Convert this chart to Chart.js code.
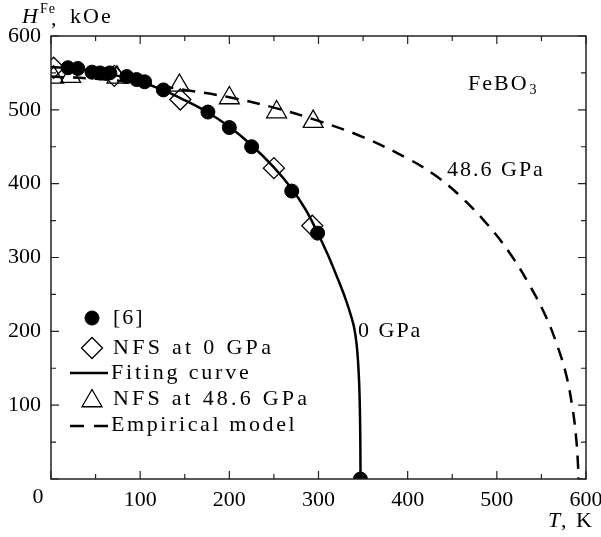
<!DOCTYPE html>
<html>
<head>
<meta charset="utf-8">
<script src="https://cdn.jsdelivr.net/npm/chart.js@4/dist/chart.umd.min.js"></script>
<style>
  html, body { margin: 0; padding: 0; background: #fff; }
</style>
</head>
<body>
<canvas id="myChart" width="601" height="537"></canvas>
<script>
"use strict";

// [6] – filled circles
var refT = [19, 30, 46, 55, 66, 85, 96, 105, 126, 176, 200, 225, 270, 299, 347];
var refH = [557, 556, 551, 550, 550, 545, 541, 538, 527, 497, 476, 450, 390, 333, 0];

// NFS at 0 GPa – diamonds
var nfs0T = [3, 71, 145, 250, 293];
var nfs0H = [557, 546, 514, 421, 343];

// NFS at 48.6 GPa – triangles
var nfs48T = [3, 22, 74, 144, 200, 253, 294];
var nfs48H = [544, 545, 544, 533, 516, 497, 484];

// fitting curve (0 GPa)
var fitT = [0, 25, 50, 75, 100, 125, 150, 175, 200, 225, 250, 270, 285, 296, 310, 320, 330, 337, 340, 342.5, 344.3, 345.6, 346.4, 346.9, 347.1];
var fitH = [558, 556, 552, 546, 538, 527, 513, 497, 477, 452, 422, 393, 366, 341, 305, 276, 245, 219, 205, 185, 160, 130, 95, 50, 0];

// empirical model (48.6 GPa)
var empT = [0, 50, 100, 150, 200, 250, 300, 350, 400, 430, 460, 490, 515, 537, 555, 568, 578, 585, 589, 591, 591.5];
var empH = [545, 542, 536, 527, 517, 503, 485, 463, 434, 412, 382, 344, 305, 262, 220, 180, 140, 95, 55, 20, 0];

var tickValues = [0, 100, 200, 300, 400, 500, 600];

function pts(xs, ys) {
    return xs.map(function (x, i) { return { x: x, y: ys[i] }; });
}

var serif = "'Liberation Serif', 'Times New Roman', serif";

function drawText(c, txt, x, y, size, spacing, align, italic) {
    c.save();
    c.font = (italic ? 'italic ' : '') + size + 'px ' + serif;
    c.fillStyle = '#000';
    c.textBaseline = 'middle';
    c.textAlign = align || 'left';
    if ('letterSpacing' in c) c.letterSpacing = (spacing || 0) + 'px';
    c.fillText(txt, x, y);
    var w = c.measureText(txt).width;
    c.restore();
    return w;
}

var framePlugin = {
    id: 'frame',
    afterDatasetsDraw: function (chart) {
        var c = chart.ctx, a = chart.chartArea;
        var xs = chart.scales.x, ys = chart.scales.y;
        c.save();
        c.strokeStyle = '#222';
        c.lineWidth = 1.5;
        c.strokeRect(a.left, a.top, a.right - a.left, a.bottom - a.top);
        c.lineWidth = 1.2;
        for (var v = 0; v <= 600; v += 50) {
            var len = (v % 100 === 0) ? 8 : 5;
            var px = xs.getPixelForValue(v), py = ys.getPixelForValue(v);
            c.beginPath();
            c.moveTo(px, a.bottom); c.lineTo(px, a.bottom - len);
            c.moveTo(px, a.top); c.lineTo(px, a.top + len);
            c.moveTo(a.left, py); c.lineTo(a.left + len, py);
            c.moveTo(a.right, py); c.lineTo(a.right - len, py);
            c.stroke();
        }
        c.restore();
    },
    afterDraw: function (chart) {
        var c = chart.ctx;
        var xs = chart.scales.x;

        // x tick "0" sits left of the axis
        drawText(c, '0', xs.getPixelForValue(0) - 13, 497, 22, 0, 'center');

        // axis titles
        var w = drawText(c, 'H', 22, 17, 22, 0, 'left', true);
        drawText(c, 'Fe', 22 + w + 2, 9, 14, 1, 'left');
        drawText(c, ',', 51, 19, 22, 0, 'left');
        drawText(c, 'kOe', 70, 17, 22, 2, 'left');

        drawText(c, 'T', 548, 521, 22, 0, 'left', true);
        drawText(c, ', K', 561, 521, 22, 2, 'left');

        // annotations
        var fw = drawText(c, 'FeBO', 468, 84, 22, 2, 'left');
        drawText(c, '3', 468 + fw + 1, 90, 14, 0, 'left');
        drawText(c, '48.6 GPa', 447, 170, 22, 2, 'left');
        drawText(c, '0 GPa', 358, 331, 22, 2, 'left');

        // legend
        var H = Chart.helpers;
        c.save();
        c.fillStyle = '#000';
        c.strokeStyle = '#000';
        c.lineWidth = 1;
        H.drawPoint(c, { pointStyle: 'circle', radius: 7, rotation: 0, borderWidth: 1 }, 92, 318);
        c.fillStyle = 'rgba(0,0,0,0)';
        c.lineWidth = 1.3;
        H.drawPoint(c, { pointStyle: 'rectRot', radius: 10.5, rotation: 0, borderWidth: 1.3 }, 92, 348);
        H.drawPoint(c, { pointStyle: 'triangle', radius: 11.5, rotation: 0, borderWidth: 1.3 }, 92, 401);
        c.lineWidth = 2.5;
        c.beginPath(); c.moveTo(70, 373); c.lineTo(108, 373); c.stroke();
        c.setLineDash([14, 10]);
        c.beginPath(); c.moveTo(70, 426); c.lineTo(108, 426); c.stroke();
        c.restore();

        drawText(c, '[6]', 113, 318, 22, 2, 'left');
        drawText(c, 'NFS at 0 GPa', 113, 348, 22, 3.3, 'left');
        drawText(c, 'Fiting curve', 111, 373, 22, 2.8, 'left');
        drawText(c, 'NFS at 48.6 GPa', 113, 399, 22, 3.2, 'left');
        drawText(c, 'Empirical model', 111, 425, 22, 2.6, 'left');
    }
};

var ctx = document.getElementById("myChart");
var myChart = new Chart(ctx, {
    type: 'scatter',
    data: {
        datasets: [{
            label: '[6]',
            data: pts(refT, refH),
            pointStyle: 'circle',
            pointRadius: 7,
            backgroundColor: '#000',
            borderColor: '#000',
            borderWidth: 1
        }, {
            label: 'NFS at 0 GPa',
            data: pts(nfs0T, nfs0H),
            pointStyle: 'rectRot',
            pointRadius: 10.5,
            backgroundColor: 'rgba(0,0,0,0)',
            borderColor: '#000',
            borderWidth: 1.3
        }, {
            label: 'NFS at 48.6 GPa',
            data: pts(nfs48T, nfs48H),
            pointStyle: 'triangle',
            pointRadius: 11.5,
            backgroundColor: 'rgba(0,0,0,0)',
            borderColor: '#000',
            borderWidth: 1.3
        }, {
            label: 'Fiting curve',
            data: pts(fitT, fitH),
            showLine: true,
            pointRadius: 0,
            borderColor: '#000',
            borderWidth: 2.5,
            tension: 0.4
        }, {
            label: 'Empirical model',
            data: pts(empT, empH),
            showLine: true,
            pointRadius: 0,
            borderColor: '#000',
            borderWidth: 2.5,
            borderDash: [13, 9],
            tension: 0.4
        }]
    },
    options: {
        responsive: false,
        animation: false,
        devicePixelRatio: 1,
        layout: { padding: { left: 0, right: 0, top: 36, bottom: 0 } },
        plugins: { legend: { display: false }, tooltip: { enabled: false } },
        scales: {
            x: {
                type: 'linear', min: 0, max: 600,
                afterBuildTicks: function (s) { s.ticks = tickValues.map(function (v) { return { value: v }; }); },
                afterFit: function (s) { s.height = 58; s.paddingRight = 15; s.paddingLeft = 0; },
                grid: { display: false, drawTicks: false },
                border: { display: false },
                ticks: {
                    color: '#000', padding: 8, maxRotation: 0,
                    font: { family: serif, size: 22 },
                    callback: function (v) { return v === 0 ? '' : v; }
                }
            },
            y: {
                type: 'linear', min: 0, max: 600,
                afterBuildTicks: function (s) { s.ticks = tickValues.map(function (v) { return { value: v }; }); },
                afterFit: function (s) { s.width = 51; s.paddingTop = 0; s.paddingBottom = 0; },
                grid: { display: false, drawTicks: false },
                border: { display: false },
                ticks: {
                    color: '#000', padding: 10,
                    font: { family: serif, size: 22 },
                    callback: function (v) { return v === 0 ? '' : v; }
                }
            }
        }
    },
    plugins: [framePlugin]
});
</script>
</body>
</html>
